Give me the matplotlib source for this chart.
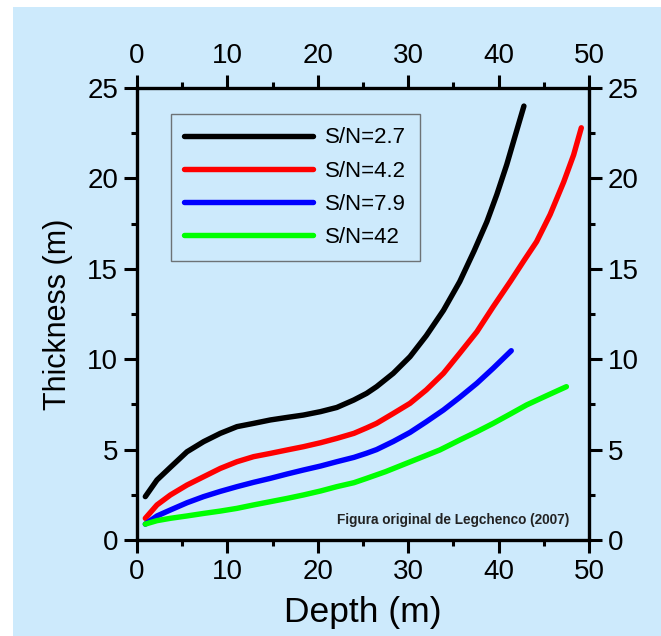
import matplotlib
matplotlib.use("Agg")
import matplotlib.pyplot as plt
from matplotlib.patches import Rectangle
from matplotlib.ticker import MultipleLocator

# Valores (Depth en m, Thickness en m)
depth_27 = [0.92, 2.21, 3.69, 5.53, 7.37, 9.22, 11.06, 12.9, 14.75, 16.6, 18.4, 20.3, 22.1,
            23.97, 25.4, 26.5, 28.35, 30.2, 32.0, 33.9, 35.7, 37.3, 38.7, 39.8, 40.9, 41.8, 42.8]
thick_27 = [2.40, 3.32, 4.02, 4.88, 5.44, 5.90, 6.27, 6.45, 6.64, 6.78, 6.91, 7.10, 7.33,
            7.74, 8.11, 8.48, 9.22, 10.14, 11.3, 12.7, 14.29, 16.0, 17.6, 19.1, 20.76, 22.3, 24.0]

depth_42 = [0.92, 2.21, 3.69, 5.53, 7.37, 9.22, 11.06, 12.9, 14.75, 16.6, 18.4, 20.3, 22.1,
            24.0, 25.4, 26.5, 28.35, 30.2, 32.0, 33.9, 35.7, 37.6, 39.4, 41.3, 42.8, 44.2,
            45.7, 47.2, 48.3, 49.15]
thick_42 = [1.2, 1.94, 2.49, 3.04, 3.5, 3.96, 4.33, 4.61, 4.79, 4.98, 5.16, 5.38, 5.62,
            5.90, 6.2, 6.45, 7.0, 7.56, 8.3, 9.22, 10.33, 11.52, 12.9, 14.3, 15.45, 16.5,
            18.0, 19.8, 21.3, 22.8]

depth_79 = [0.92, 2.21, 3.69, 5.53, 7.37, 9.22, 11.06, 12.9, 14.75, 16.6, 18.4, 20.3, 22.1,
            24.0, 25.4, 26.5, 28.35, 30.2, 32.0, 33.9, 35.7, 37.6, 39.4, 41.4]
thick_79 = [0.88, 1.33, 1.66, 2.06, 2.4, 2.69, 2.95, 3.19, 3.41, 3.65, 3.87, 4.09, 4.33,
            4.57, 4.8, 5.0, 5.45, 5.95, 6.54, 7.19, 7.89, 8.67, 9.5, 10.47]

depth_420 = [0.92, 2.21, 3.69, 5.53, 7.37, 9.22, 11.06, 12.9, 14.75, 16.6, 18.4, 20.3, 22.1,
             24.0, 25.4, 27.5, 29.5, 31.5, 33.5, 35.7, 37.6, 39.4, 41.3, 43.1, 45.3, 47.5]
thick_420 = [0.88, 1.07, 1.2, 1.33, 1.47, 1.6, 1.75, 1.94, 2.12, 2.3, 2.49, 2.71, 2.95,
             3.17, 3.41, 3.78, 4.18, 4.58, 4.98, 5.53, 5.99, 6.45, 6.97, 7.47, 7.98, 8.48]

labels = ["S/N=2.7", "S/N=4.2", "S/N=7.9", "S/N=42"]
colors = ["#000000", "#ff0000", "#0000ff", "#00ff00"]

BG = "#cdeafc"

plt.rcParams["font.family"] = ["Liberation Sans", "DejaVu Sans"]

fig = plt.figure(figsize=(6.61, 6.36), dpi=100)
fig.patch.set_facecolor("white")
fig.patches.append(Rectangle((13 / 661, 0), 1, 1 - 7 / 636, transform=fig.transFigure,
                             facecolor=BG, edgecolor="none", zorder=-10))

ax = fig.add_axes([137 / 661, 96 / 636, 452 / 661, 452 / 636])
ax.set_facecolor("none")

series = [(depth_27, thick_27), (depth_42, thick_42), (depth_79, thick_79), (depth_420, thick_420)]
for (x, y), lab, c in zip(series, labels, colors):
    ax.plot(x, y, color=c, lw=3.9, label=lab, solid_capstyle="round",
            solid_joinstyle="round")

ax.set_xlim(0, 50)
ax.set_ylim(0, 25)
ax.xaxis.set_major_locator(MultipleLocator(10))
ax.xaxis.set_minor_locator(MultipleLocator(5))
ax.yaxis.set_major_locator(MultipleLocator(5))
ax.yaxis.set_minor_locator(MultipleLocator(2.5))

ax.tick_params(which="both", direction="out", top=True, right=True,
               labeltop=True, labelright=True, width=2.2, colors="black",
               labelsize=20)
ax.tick_params(which="major", length=9.5, pad=4)
ax.tick_params(which="minor", length=4.5)
for s in ax.spines.values():
    s.set_linewidth(2.4)

ax.set_xlabel("Depth (m)", fontsize=25.5, labelpad=8)
ax.set_ylabel("Thickness (m)", fontsize=22, labelpad=10)

leg = ax.legend(loc="upper left", bbox_to_anchor=(0.075, 0.9425), fontsize=16,
                handlelength=5.8, handletextpad=0.55, labelspacing=0.55,
                borderpad=0.6, borderaxespad=0, fancybox=False, frameon=True)
leg.get_frame().set_facecolor("none")
leg.get_frame().set_edgecolor("#555555")
leg.get_frame().set_linewidth(1.0)

ax.text(0.956, 0.045, "Figura original de Legchenco (2007)", transform=ax.transAxes,
        ha="right", va="center", fontsize=9.8, fontweight="bold", color="#222222")

fig.savefig("out.png", dpi=100)
